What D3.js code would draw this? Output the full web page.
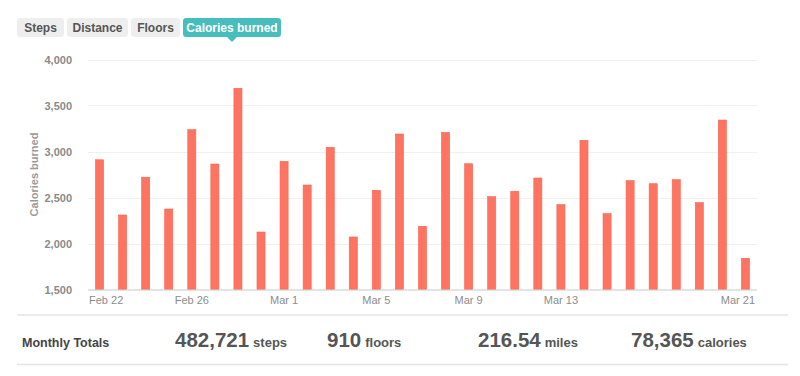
<!DOCTYPE html>
<html>
<head>
<meta charset="utf-8">
<title>Calories burned</title>
<script src="https://cdn.jsdelivr.net/npm/d3@7"></script>
<style>
  body { margin: 0; background: #fff; }
  svg text { font-family: "Helvetica Neue", Helvetica, Arial, "Liberation Sans", sans-serif; }
</style>
</head>
<body>
<div id="chart"></div>
<script>

// data
var days = ["Feb 22","Feb 23","Feb 24","Feb 25","Feb 26","Feb 27","Feb 28","Feb 29",
            "Mar 1","Mar 2","Mar 3","Mar 4","Mar 5","Mar 6","Mar 7","Mar 8","Mar 9",
            "Mar 10","Mar 11","Mar 12","Mar 13","Mar 14","Mar 15","Mar 16","Mar 17",
            "Mar 18","Mar 19","Mar 20","Mar 21"];
var calories = [2910, 2310, 2720, 2375, 3237, 2864, 3687, 2125,
                2893, 2636, 3045, 2071, 2578, 3190, 2187, 3208, 2867,
                2509, 2568, 2712, 2422, 3122, 2324, 2683, 2650,
                2694, 2444, 3342, 1839];
var yTicks = [1500, 2000, 2500, 3000, 3500, 4000];
var xTickLabels = ["Feb 22", "Feb 26", "Mar 1", "Mar 5", "Mar 9", "Mar 13", "Mar 21"];
var tabs = ["Steps", "Distance", "Floors", "Calories burned"];
var activeTab = "Calories burned";
var totalsValues = ["482,721", "910", "216.54", "78,365"];
var totalsUnits = ["steps", "floors", "miles", "calories"];

var W = 800, H = 376;
var plot = {left: 88, right: 757, top: 59.5, bottom: 289.5};

var svg = d3.select("#chart")
  .append("svg")
    .attr("width", W)
    .attr("height", H);

// tabs
var tabX = [17, 67, 131, 183];
var tabW = [47, 61, 49, 98];
var tab = svg.selectAll(".tab")
  .data(tabs)
  .enter().append("g")
    .attr("class", "tab")
    .attr("transform", function(d, i) { return "translate(" + tabX[i] + ",18)"; });

tab.append("rect")
  .attr("width", function(d, i) { return tabW[i]; })
  .attr("height", 19)
  .attr("rx", 3)
  .attr("fill", function(d) { return d == activeTab ? "#48bdbd" : "#eeeeee"; });

tab.append("text")
  .attr("x", function(d, i) { return tabW[i] / 2; })
  .attr("y", 13.5)
  .attr("text-anchor", "middle")
  .attr("font-size", 12)
  .attr("font-weight", "bold")
  .attr("fill", function(d) { return d == activeTab ? "#ffffff" : "#555555"; })
  .text(function(d) { return d; });

// little pointer under the active tab
var ai = tabs.indexOf(activeTab);
var px = tabX[ai] + tabW[ai] / 2;
svg.append("path")
  .attr("d", "M" + (px - 5) + ",37 L" + px + ",42 L" + (px + 5) + ",37 Z")
  .attr("fill", "#48bdbd");

// scales
var x = d3.scaleBand()
  .domain(days)
  .range([plot.left, plot.right])
  .paddingInner(0.65)
  .paddingOuter(0.325);

var y = d3.scaleLinear()
  .domain([1500, 4000])
  .range([plot.bottom, plot.top]);

// grid
svg.append("g")
  .selectAll("line")
  .data(yTicks.slice(1))
  .enter().append("line")
    .attr("x1", plot.left)
    .attr("x2", plot.right)
    .attr("y1", function(d) { return Math.round(y(d)) + 0.5; })
    .attr("y2", function(d) { return Math.round(y(d)) + 0.5; })
    .attr("stroke", "#f0f0f0");

// bars
svg.append("g")
  .selectAll("rect")
  .data(calories)
  .enter().append("rect")
    .attr("x", function(d, i) { return x(days[i]); })
    .attr("y", function(d) { return y(d); })
    .attr("width", x.bandwidth())
    .attr("height", function(d) { return y(1500) - y(d); })
    .attr("fill", "#ff7461")
    .attr("stroke", "#f26553")
    .attr("stroke-width", 0.6);

// y axis
var yAxis = svg.append("g")
  .attr("transform", "translate(" + (plot.left - 13) + ",0)")
  .call(d3.axisLeft(y).tickValues(yTicks).tickSize(0).tickFormat(d3.format(",")));
yAxis.select(".domain").remove();
yAxis.selectAll("text")
  .attr("font-size", 11)
  .attr("font-weight", "bold")
  .attr("fill", "#8a8a8a")
  .attr("dy", "0.35em");

svg.append("text")
  .attr("transform", "translate(38," + ((plot.top + plot.bottom) / 2) + ") rotate(-90)")
  .attr("text-anchor", "middle")
  .attr("font-size", 11)
  .attr("font-weight", "bold")
  .attr("fill", "#999999")
  .text("Calories burned");

// x axis
var xAxis = svg.append("g")
  .attr("transform", "translate(0," + plot.bottom + ")")
  .call(d3.axisBottom(x).tickValues(xTickLabels).tickSize(0).tickPadding(7));
xAxis.select(".domain")
  .attr("stroke", "#c8c8c8")
  .attr("d", "M" + plot.left + ",0.5H" + plot.right);
xAxis.selectAll("text")
  .attr("font-size", 11)
  .attr("fill", "#8c8c8c");
// keep end labels inside the plot, as the original does
xAxis.selectAll(".tick").each(function(d, i, nodes) {
  var pos = x(d) + x.bandwidth() / 2;
  var t = d3.select(this).select("text");
  if (i == 0) t.attr("text-anchor", "start").attr("x", plot.left + 1 - pos);
  if (i == nodes.length - 1) t.attr("text-anchor", "end").attr("x", plot.right - 2 - pos);
});

// monthly totals
svg.append("line")
  .attr("x1", 17).attr("x2", 788)
  .attr("y1", 315).attr("y2", 315)
  .attr("stroke", "#e4e4e4").attr("stroke-width", 1.5);
svg.append("line")
  .attr("x1", 17).attr("x2", 788)
  .attr("y1", 364.5).attr("y2", 364.5)
  .attr("stroke", "#e4e4e4").attr("stroke-width", 1.5);

svg.append("text")
  .attr("x", 22)
  .attr("y", 347)
  .attr("font-size", 12.5)
  .attr("font-weight", "bold")
  .attr("fill", "#444444")
  .text("Monthly Totals");

var totalX = [175, 327, 478, 631];
var tot = svg.selectAll(".total")
  .data(totalsValues)
  .enter().append("text")
    .attr("class", "total")
    .attr("x", function(d, i) { return totalX[i]; })
    .attr("y", 347)
    .attr("fill", "#555555")
    .attr("font-weight", "bold");
tot.append("tspan")
  .attr("font-size", 20.5)
  .text(function(d) { return d; });
tot.append("tspan")
  .attr("font-size", 13)
  .attr("dx", 4)
  .text(function(d, i) { return totalsUnits[i]; });

</script>
</body>
</html>
